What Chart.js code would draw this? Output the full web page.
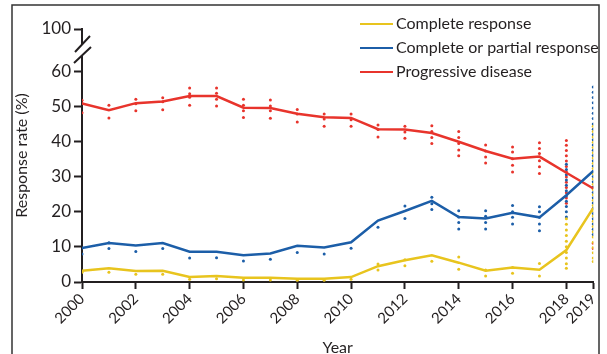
<!DOCTYPE html>
<html>
<head>
<meta charset="utf-8">
<script src="https://cdn.jsdelivr.net/npm/chart.js@4.4.1/dist/chart.umd.min.js"></script>
<style>
  html, body { margin: 0; padding: 0; background: #fff; }
  #wrap { width: 607px; height: 354px; position: relative; }
</style>
</head>
<body>
<div id="wrap"><canvas id="c" width="607" height="354"></canvas></div>
<script>
// Yearly pooled response rates (%)
const years = [2000, 2001, 2002, 2003, 2004, 2005, 2006, 2007, 2008, 2009,
               2010, 2011, 2012, 2013, 2014, 2015, 2016, 2017, 2018, 2019];
const completeMean    = [3.2, 3.9, 3.1, 3.2, 1.4, 1.7, 1.2, 1.2, 0.9, 0.9,
                         1.4, 4.5, 6.2, 7.6, 5.5, 3.2, 4.1, 3.5, 9.1, 21.1];
const overallMean     = [9.7, 11.1, 10.4, 11.1, 8.6, 8.6, 7.6, 8.1, 10.3, 9.8,
                         11.3, 17.5, 20.2, 23.1, 18.5, 18.1, 19.7, 18.4, 24.7, 31.6];
const progressiveMean = [50.8, 48.9, 50.9, 51.4, 52.9, 52.9, 49.6, 49.5, 47.9, 46.9,
                         46.7, 43.5, 43.4, 42.4, 39.9, 37.3, 35.1, 35.7, 31.1, 26.6];

// Individual study rates per year (same order as `years`)
const completeStudies = [
  [2.8], [2.8], [2.2], [2.2], [0.8], [0.9], [0.6], [0.6], [0.5], [0.5],
  [0.8], [5.1, 3.4], [6.3, 4.6], [5.9], [7.1, 3.6], [3.4, 1.7], [4.1, 2.5], [5.3, 1.7],
  [18.0, 16.4, 14.8, 13.2, 11.6, 10.0, 8.4, 6.8, 5.2, 3.9],
  [44.3, 42.8, 41.3, 39.8, 38.3, 36.8, 35.3, 33.8, 32.3, 30.8, 29.3, 27.8, 26.3, 24.8,
   23.3, 21.8, 20.3, 18.8, 17.3, 15.8, 14.3, 12.8, 11.3, 9.8, 8.3, 6.8, 5.8]
];
const overallStudies = [
  [9.7, 8.0], [11.2, 9.5], [8.7], [9.5], [6.8], [6.9], [6.0], [6.5], [8.4], [8.0],
  [9.6], [15.6], [21.6, 18.1], [24.1, 22.3, 20.6], [20.3, 18.5, 16.9, 15.1],
  [20.3, 18.7, 16.9, 15.1], [21.8, 20.0, 18.4, 16.5], [21.4, 20.0, 18.4, 16.5, 14.6],
  [33.5, 32.0, 30.5, 29.0, 27.5, 26.0, 24.5, 23.0, 21.5, 20.0, 18.5],
  [55.5, 54.0, 52.5, 51.0, 49.5, 48.0, 46.5, 45.0, 43.5, 42.0, 40.5, 39.0, 37.5, 36.0,
   34.5, 33.0, 31.5, 30.0, 28.5, 27.0, 25.5, 24.0, 22.5, 21.0, 19.5, 18.0, 16.5, 15.0, 13.5]
];
const progressiveStudies = [
  [51.7, 50.8, 48.2], [50.3, 46.7], [52.0, 50.7, 48.7], [52.4, 51.3, 49.0],
  [55.2, 53.6, 52.6, 50.3], [55.2, 53.7, 52.0, 50.1], [52.0, 50.3, 48.7, 46.8],
  [51.8, 50.1, 48.7, 46.6], [49.1, 47.8, 45.5], [47.8, 46.4, 44.3],
  [47.8, 46.2, 44.3], [44.7, 43.4, 41.3], [44.3, 42.7, 40.9], [44.5, 42.8, 41.1, 39.4],
  [42.8, 41.1, 39.4, 37.6, 35.9], [39.0, 37.3, 35.6, 33.9], [38.4, 37.0, 35.1, 33.2, 31.3],
  [39.6, 38.0, 36.6, 34.5, 32.8, 30.9],
  [40.3, 38.9, 37.4, 35.9, 34.4, 32.9, 31.4, 29.9, 28.4, 26.9, 25.4, 23.9, 22.4],
  [27.0, 11.0, 9.5]
];

const xTickYears = [2000, 2002, 2004, 2006, 2008, 2010, 2012, 2014, 2016, 2018, 2019];
const yTickValues = [0, 10, 20, 30, 40, 50, 60, 72];   // 72 sits above the axis break
const yTickText   = ['0', '10', '20', '30', '40', '50', '60', '100'];

const seriesNames = ['Complete response', 'Complete or partial response', 'Progressive disease'];
const YELLOW = '#e8c41e', BLUE = '#1c5ea8', RED = '#e8342c';
const INK = '#231f20';
const FONT = 'Lato, "Open Sans", sans-serif';

const toPoints = (vals) => years.map((y, i) => ({ x: y, y: vals[i] }));
const toStudyPoints = (lists) => lists.flatMap((vals, i) => vals.map(v => ({ x: years[i], y: v })));

function lineSet(label, vals, color) {
  return { type: 'line', label, data: toPoints(vals), borderColor: color, backgroundColor: color,
           borderWidth: 2.5, pointRadius: 0, tension: 0, order: 1, isMean: true };
}
function dotSet(label, lists, color) {
  return { type: 'scatter', label, data: toStudyPoints(lists), borderColor: color, backgroundColor: color,
           pointRadius: 1.5, pointBorderWidth: 0, order: 2 };
}

// Legend drawn at the top right from the mean-line datasets
const legendPlugin = {
  id: 'topLegend',
  afterDraw(chart) {
    const ctx = chart.ctx;
    const items = chart.data.datasets.filter(d => d.isMean);
    ctx.save();
    ctx.font = '16px ' + FONT;
    ctx.textBaseline = 'middle';
    ctx.fillStyle = INK;
    items.forEach((d, i) => {
      const y = 24 + i * 24;
      ctx.strokeStyle = d.borderColor;
      ctx.lineWidth = 2;
      ctx.beginPath(); ctx.moveTo(360, y); ctx.lineTo(393, y); ctx.stroke();
      ctx.fillText(d.label, 396, y);
    });
    ctx.restore();
  }
};

// Double-slash break on the y axis between 60 and 100, plus the panel frame
const breakPlugin = {
  id: 'axisBreak',
  afterDraw(chart) {
    const ctx = chart.ctx;
    const x0 = chart.scales.y.right;
    ctx.save();
    ctx.fillStyle = '#fff';
    ctx.fillRect(x0 - 4, 45, 8, 10);
    ctx.strokeStyle = INK;
    ctx.lineWidth = 2;
    ctx.beginPath();
    ctx.moveTo(x0 - 7, 52); ctx.lineTo(x0 + 8, 36);
    ctx.moveTo(x0 - 8, 63); ctx.lineTo(x0 + 9, 47);
    ctx.stroke();
    ctx.strokeStyle = '#333';
    ctx.lineWidth = 1.5;
    ctx.beginPath();
    ctx.moveTo(12, 354); ctx.lineTo(12, 5); ctx.lineTo(599, 5); ctx.lineTo(599, 354);
    ctx.stroke();
    ctx.restore();
  }
};

new Chart(document.getElementById('c'), {
  data: {
    datasets: [
      lineSet(seriesNames[0], completeMean, YELLOW),
      lineSet(seriesNames[1], overallMean, BLUE),
      lineSet(seriesNames[2], progressiveMean, RED),
      dotSet(seriesNames[0] + ' (studies)', completeStudies, YELLOW),
      dotSet(seriesNames[1] + ' (studies)', overallStudies, BLUE),
      dotSet(seriesNames[2] + ' (studies)', progressiveStudies, RED)
    ]
  },
  options: {
    responsive: false,
    animation: false,
    layout: { padding: { left: 0, right: 10, top: 29, bottom: 0 } },
    plugins: { legend: { display: false }, tooltip: { enabled: false } },
    scales: {
      x: {
        type: 'linear', min: 2000, max: 2019,
        afterBuildTicks: s => { s.ticks = xTickYears.map(v => ({ value: v })); },
        afterFit: s => { s.height = 72; },
        ticks: { minRotation: 45, maxRotation: 45, padding: 1, color: INK,
                 font: { family: FONT, size: 15 }, callback: v => String(v) },
        grid: { drawOnChartArea: false, drawTicks: true, tickLength: 7, color: INK, tickWidth: 2 },
        border: { color: INK, width: 2 },
        title: { display: true, text: 'Year', color: INK, padding: { top: 0, bottom: -3 },
                 font: { family: FONT, size: 16 } }
      },
      y: {
        type: 'linear', min: 0, max: 72,
        afterBuildTicks: s => { s.ticks = yTickValues.map(v => ({ value: v })); },
        afterFit: s => { s.width = 82; },
        ticks: { padding: 3, color: INK, font: { family: FONT, size: 17 },
                 callback: v => yTickText[yTickValues.indexOf(v)] },
        grid: { drawOnChartArea: false, drawTicks: true, tickLength: 8, color: INK, tickWidth: 2 },
        border: { color: INK, width: 2 },
        title: { display: true, text: 'Response rate (%)', color: INK, padding: { top: 12, bottom: 0 },
                 font: { family: FONT, size: 16 } }
      }
    }
  },
  plugins: [legendPlugin, breakPlugin]
});
</script>
</body>
</html>
